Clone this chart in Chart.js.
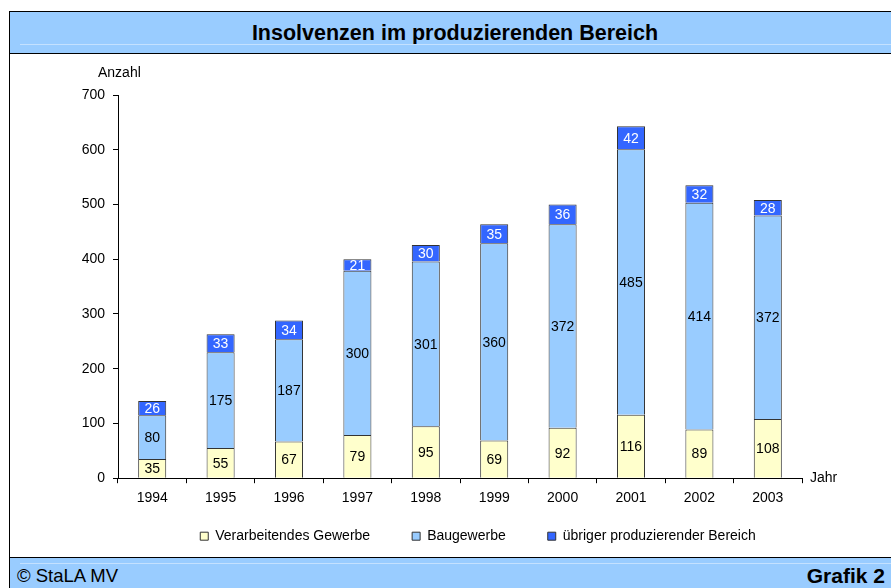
<!DOCTYPE html>
<html>
<head>
<meta charset="utf-8">
<title>Insolvenzen im produzierenden Bereich</title>
<script src="https://cdn.jsdelivr.net/npm/chart.js@4"></script>
<style>
  body { margin: 0; width: 891px; height: 588px; background: #fff; font-family: "Liberation Sans", Arial, sans-serif; position: relative; overflow: hidden; }
  #frame { position: absolute; left: 9px; top: 11px; width: 882px; height: 577px; border-left: 1px solid #000; border-top: 1px solid #000; }
  #titleBar { position: absolute; left: 0; top: 0; width: 882px; height: 41px; background: #99CCFF; border-bottom: 1px solid #000; }
  #titleBar .hl { position: absolute; left: 10px; right: 0; top: 32px; height: 1px; background: #C4E1FF; }
  #titleBar h1 { margin: 0; padding-left: 8px; font-size: 21.5px; font-weight: bold; text-align: center; line-height: 42px; color: #000; }
  #chartBox { position: absolute; left: 0; top: 42px; width: 881px; height: 503px; }
  #footer { position: absolute; left: 0; top: 545px; width: 882px; height: 32px; background: #99CCFF; border-top: 1px solid #000; }
  #footer .hl { position: absolute; left: 10px; right: 0; top: 5px; height: 1px; background: #C4E1FF; }
  #footer .left { position: absolute; left: 7px; top: 7px; font-size: 18.5px; }
  #footer .right { position: absolute; right: 7px; top: 6px; font-size: 21px; font-weight: bold; }
</style>
</head>
<body>
<div id="frame">
  <div id="titleBar"><div class="hl"></div><h1>Insolvenzen im produzierenden Bereich</h1></div>
  <div id="chartBox"><canvas id="barChart" width="881" height="503"></canvas></div>
  <div id="footer"><div class="hl"></div><span class="left">© StaLA MV</span><span class="right">Grafik 2</span></div>
</div>
<script>
// Chart data
var years = ['1994', '1995', '1996', '1997', '1998', '1999', '2000', '2001', '2002', '2003'];
var verarbeitendes = [35, 55, 67, 79, 95, 69, 92, 116, 89, 108];
var baugewerbe = [80, 175, 187, 300, 301, 360, 372, 485, 414, 372];
var uebriger = [26, 33, 34, 21, 30, 35, 36, 42, 32, 28];
var yTicks = [0, 100, 200, 300, 400, 500, 600, 700];

var fontFamily = '"Liberation Sans", Arial, sans-serif';
var fontSize = 14;
var legendPadding = 42;

// Write the value in the middle of each bar segment
var segmentLabels = {
  id: 'segmentLabels',
  afterDatasetsDraw: function(chart) {
    var ctx = chart.ctx;
    ctx.save();
    ctx.font = fontSize + 'px ' + fontFamily;
    ctx.textAlign = 'center';
    ctx.textBaseline = 'middle';
    chart.data.datasets.forEach(function(dataset, i) {
      var meta = chart.getDatasetMeta(i);
      ctx.fillStyle = i === 2 ? '#fff' : '#000';
      meta.data.forEach(function(bar, j) {
        var mid = (bar.y + bar.base) / 2;
        ctx.fillText(dataset.data[j], bar.x, mid + 1);
      });
    });
    ctx.restore();
  }
};

// Axis captions "Anzahl" and "Jahr"
var axisCaptions = {
  id: 'axisCaptions',
  afterDraw: function(chart) {
    var ctx = chart.ctx;
    var area = chart.chartArea;
    ctx.save();
    ctx.font = fontSize + 'px ' + fontFamily;
    ctx.fillStyle = '#000';
    ctx.textBaseline = 'middle';
    ctx.textAlign = 'left';
    ctx.fillText('Anzahl', area.left - 20, area.top - 22);
    ctx.fillText('Jahr', area.right + 8, area.bottom);
    ctx.restore();
  }
};

// Keep the legend compact in height but with wide gaps between the items,
// and move it a bit to the right like in the original
var legendPlacement = {
  id: 'legendPlacement',
  beforeLayout: function(chart) {
    var legend = chart.legend;
    if (legend && !legend._fitWrapped) {
      var origFit = legend.fit;
      legend.fit = function() {
        origFit.call(this);
        this.height = 20;
      };
      legend._fitWrapped = true;
    }
  },
  afterLayout: function(chart) {
    var legend = chart.legend;
    var top = chart.chartArea.bottom + 58 - legendPadding - fontSize / 2;
    legend.top = top;
    legend.bottom = top + legendPadding + fontSize + 4;
    legend.left += 48;
    legend.right += 48;
  }
};

var ctx = document.getElementById('barChart').getContext('2d');
var barChart = new Chart(ctx, {
  type: 'bar',
  data: {
    labels: years,
    datasets: [
      {
        label: 'Verarbeitendes Gewerbe',
        data: verarbeitendes,
        backgroundColor: '#FFFFCC',
        borderColor: '#333',
        borderWidth: 1
      },
      {
        label: 'Baugewerbe',
        data: baugewerbe,
        backgroundColor: '#99CCFF',
        borderColor: '#333',
        borderWidth: 1
      },
      {
        label: 'übriger produzierender Bereich',
        data: uebriger,
        backgroundColor: '#3366FF',
        borderColor: '#333',
        borderWidth: 1
      }
    ]
  },
  options: {
    responsive: false,
    animation: false,
    barPercentage: 0.41,
    categoryPercentage: 1,
    layout: {
      padding: { left: 48, right: 89, top: 41, bottom: 23 }
    },
    plugins: {
      tooltip: { enabled: false },
      legend: {
        position: 'bottom',
        labels: {
          boxWidth: 8,
          boxHeight: 8,
          padding: legendPadding,
          color: '#000',
          font: { family: fontFamily, size: fontSize }
        }
      }
    },
    scales: {
      x: {
        stacked: true,
        offset: true,
        grid: { offset: true, drawOnChartArea: false, drawTicks: true, tickLength: 5, color: '#000' },
        border: { color: '#000' },
        ticks: { color: '#000', padding: 7, autoSkip: false, maxRotation: 0, font: { family: fontFamily, size: fontSize } }
      },
      y: {
        stacked: true,
        min: yTicks[0],
        max: yTicks[yTicks.length - 1],
        afterBuildTicks: function(scale) {
          scale.ticks = yTicks.map(function(v) { return { value: v }; });
        },
        grid: { drawOnChartArea: false, drawTicks: true, tickLength: 5, color: '#000' },
        border: { color: '#000' },
        ticks: { color: '#000', padding: 8, font: { family: fontFamily, size: fontSize } },
        afterFit: function(scale) { scale.width = 60; }
      }
    }
  },
  plugins: [segmentLabels, axisCaptions, legendPlacement]
});
</script>
</body>
</html>
